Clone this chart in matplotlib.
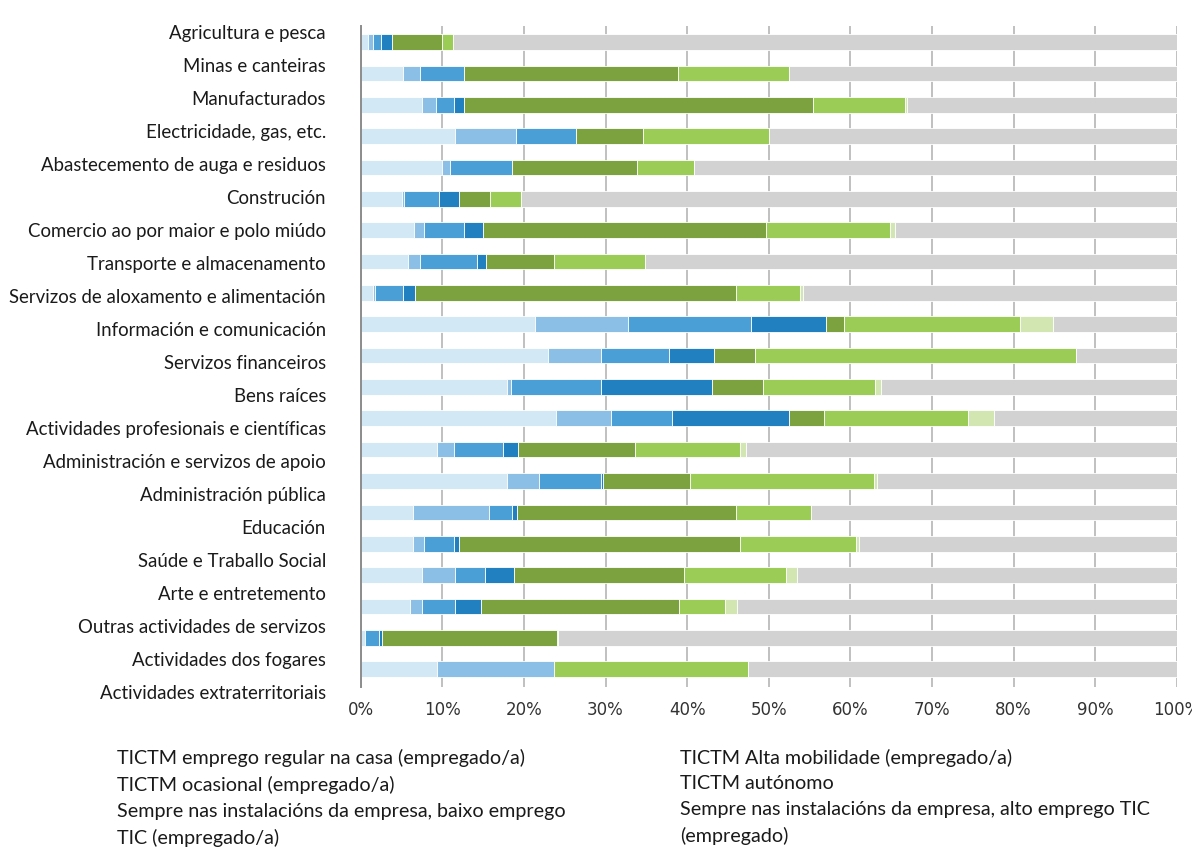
import matplotlib
matplotlib.use("Agg")
import matplotlib.pyplot as plt
import numpy as np

categories = [
    "Agricultura e pesca", "Minas e canteiras", "Manufacturados",
    "Electricidade, gas, etc.", "Abastecemento de auga e residuos", "Construción",
    "Comercio ao por maior e polo miúdo", "Transporte e almacenamento",
    "Servizos de aloxamento e alimentación", "Información e comunicación",
    "Servizos financeiros", "Bens raíces", "Actividades profesionais e científicas",
    "Administración e servizos de apoio", "Administración pública", "Educación",
    "Saúde e Traballo Social", "Arte e entretemento", "Outras actividades de servizos",
    "Actividades dos fogares", "Actividades extraterritoriais",
]

# segment widths (%) per category, in stacking order
seg1 = [0.9, 5.2, 7.5, 11.6, 10.0, 5.0, 6.5, 5.8, 1.5, 21.3, 22.9, 17.9, 23.9, 9.3, 17.9, 6.4, 6.4, 7.5, 6.0, 0.5, 9.3]
seg2 = [0.6, 2.1, 1.7, 7.4, 1.0, 0.3, 1.2, 1.5, 0.2, 11.5, 6.6, 0.5, 6.8, 2.1, 4.0, 9.3, 1.4, 4.1, 1.5, 0.0, 14.4]
seg3 = [1.0, 5.3, 2.2, 7.4, 7.6, 4.3, 4.9, 6.9, 3.5, 15.0, 8.3, 11.1, 7.5, 6.0, 7.5, 2.8, 3.6, 3.6, 4.0, 1.7, 0.0]
seg4 = [1.3, 0.0, 1.2, 0.0, 0.0, 2.5, 2.4, 1.1, 1.4, 9.2, 5.5, 13.5, 14.3, 1.9, 0.3, 0.6, 0.7, 3.6, 3.3, 0.4, 0.0]
seg5 = [6.2, 26.3, 42.8, 8.2, 15.2, 3.7, 34.7, 8.4, 39.4, 2.2, 5.0, 6.3, 4.3, 14.3, 10.6, 26.9, 34.4, 20.8, 24.2, 21.4, 0.0]
seg6 = [1.3, 13.6, 11.3, 15.4, 7.0, 3.8, 15.2, 11.1, 7.8, 21.6, 39.3, 13.7, 17.6, 12.9, 22.6, 9.2, 14.2, 12.5, 5.6, 0.2, 23.8]
seg7 = [0.0, 0.0, 0.2, 0.0, 0.0, 0.0, 0.6, 0.0, 0.4, 4.0, 0.1, 0.8, 3.2, 0.7, 0.4, 0.0, 0.4, 1.4, 1.5, 0.0, 0.0]
segments = [seg1, seg2, seg3, seg4, seg5, seg6, seg7]
seg8 = list(100 - np.sum(np.array(segments), axis=0))
segments.append(seg8)

colors = ["#d2e8f5", "#8bbfe6", "#4a9fd6", "#2180c0",
          "#7ba23f", "#9bcc55", "#d1e6b1", "#d1d2d1"]

xticks = list(range(0, 101, 10))
xticklabels = [f"{t}%" for t in xticks]

legend_left = ["TICTM emprego regular na casa (empregado/a)",
               "TICTM ocasional (empregado/a)",
               "Sempre nas instalacións da empresa, baixo emprego",
               "TIC (empregado/a)"]
legend_right = ["TICTM Alta mobilidade (empregado/a)",
                "TICTM autónomo",
                "Sempre nas instalacións da empresa, alto emprego TIC",
                "(empregado)"]

plt.rcParams['font.family'] = ['Lato', 'DejaVu Sans']

W, H = 1192, 852
fig = plt.figure(figsize=(W / 100, H / 100), dpi=100)

# main bar axes
ax = fig.add_axes([360.7 / W, 1 - 687 / H, (1176.7 - 360.7) / W, (687 - 26) / H])
y = np.arange(len(categories))
left = np.zeros(len(categories))
for vals, col in zip(segments, colors):
    vals = np.array(vals)
    ax.barh(y, vals, left=left, height=0.5, color=col, edgecolor='white',
            linewidth=0.6, zorder=2)
    left += vals

ax.set_xlim(0, 100)
ax.set_ylim(20.57, -0.51)
ax.set_xticks(xticks)
ax.set_xticklabels(xticklabels, fontsize=12, color='#333333',
                   family=['DejaVu Sans'])
ax.tick_params(axis='x', length=0, pad=10)
ax.set_yticks([])
ax.grid(axis='x', color='#c0c0c0', linewidth=1.4, zorder=0)
ax.set_axisbelow(True)
for s in ['top', 'right', 'bottom']:
    ax.spines[s].set_visible(False)
ax.spines['left'].set_color('#8c8c8c')
ax.spines['left'].set_linewidth(1.4)
ax.spines['left'].set_zorder(3)

# category label axes (labels spaced slightly wider than bars, as in reference)
lax = fig.add_axes([360.7 / W, 1 - 708.5 / H, (1176.7 - 360.7) / W, (708.5 - 15.5) / H])
lax.set_ylim(len(categories) - 0.5, -0.5)
lax.set_yticks(y)
lax.set_yticklabels(categories, fontsize=13.4, color='#1a1a1a')
lax.tick_params(axis='y', length=0, pad=25)
lax.set_xticks([])
lax.patch.set_alpha(0)
for s in lax.spines.values():
    s.set_visible(False)

# legend text
fig.text(117 / W, 1 - 749 / H, "\n".join(legend_left), fontsize=14.2,
         va='top', ha='left', linespacing=1.60, color='#1a1a1a')
fig.text(680 / W, 1 - 749 / H, "\n".join(legend_right), fontsize=14.2,
         va='top', ha='left', linespacing=1.60, color='#1a1a1a')

fig.savefig("out.png", dpi=100)
